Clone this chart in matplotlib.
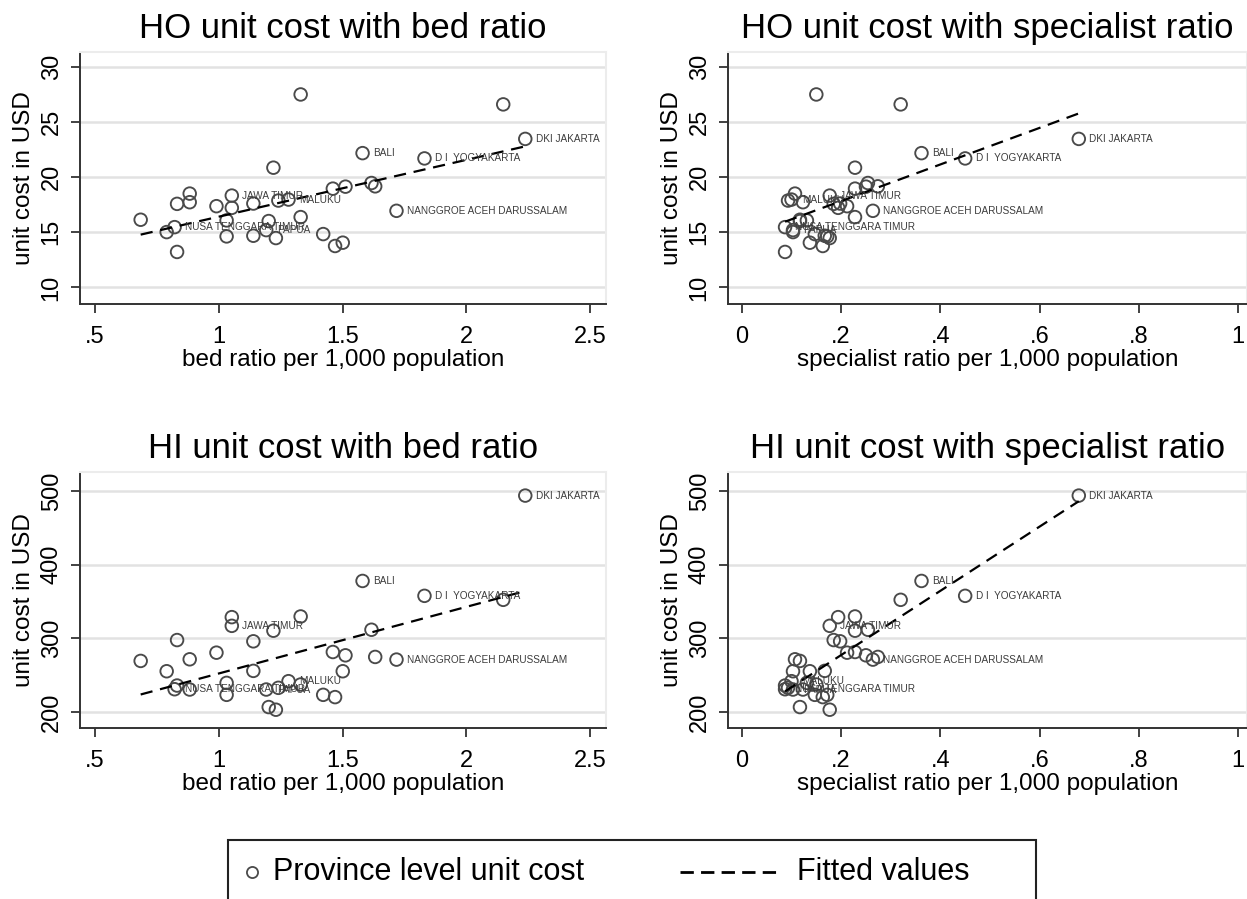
import numpy as np
import matplotlib.pyplot as plt
from matplotlib.lines import Line2D
from matplotlib.patches import Rectangle

plt.rcParams["font.family"] = ["Liberation Sans", "DejaVu Sans"]

# one row per province, same order in every list
province = [
    "", "", "NUSA TENGGARA TIMUR", "", "", "", "", "", "", "",
    "JAWA TIMUR", "", "", "", "PAPUA", "", "", "", "", "MALUKU",
    "", "", "", "", "", "", "", "BALI", "", "",
    "NANGGROE ACEH DARUSSALAM", "D I  YOGYAKARTA", "", "DKI JAKARTA",
]
bed_ratio = [
    0.685, 0.790, 0.822, 0.832, 0.832, 0.883, 0.883, 0.991, 1.032, 1.032,
    1.053, 1.053, 1.140, 1.140, 1.192, 1.202, 1.221, 1.231, 1.241, 1.282,
    1.331, 1.331, 1.422, 1.461, 1.470, 1.501, 1.512, 1.581, 1.617, 1.632,
    1.718, 1.831, 2.149, 2.238,
]
specialist_ratio = [
    0.117, 0.103, 0.087, 0.087, 0.185, 0.107, 0.123, 0.212, 0.131, 0.172,
    0.177, 0.194, 0.198, 0.167, 0.103, 0.117, 0.228, 0.177, 0.093, 0.100,
    0.150, 0.228, 0.147, 0.228, 0.163, 0.137, 0.250, 0.362, 0.254, 0.274,
    0.264, 0.450, 0.320, 0.679,
]
ho_cost = [
    16.14, 15.02, 15.47, 13.22, 17.58, 18.51, 17.73, 17.37, 16.08, 14.63,
    18.33, 17.22, 17.61, 14.69, 15.20, 16.02, 20.86, 14.48, 17.88, 17.97,
    27.50, 16.38, 14.84, 18.96, 13.76, 14.06, 19.14, 22.18, 19.47, 19.17,
    16.95, 21.70, 26.60, 23.47,
]
hi_cost = [
    269.4, 255.4, 231.0, 236.0, 297.7, 271.6, 230.6, 280.6, 239.6, 223.4,
    317.0, 328.8, 296.0, 255.9, 230.6, 206.8, 310.4, 203.2, 232.9, 241.9,
    237.4, 329.7, 223.4, 281.5, 220.3, 255.4, 277.0, 377.9, 311.7, 274.8,
    271.2, 357.7, 352.3, 493.7,
]

bed_ticks = [0.5, 1, 1.5, 2, 2.5]
bed_labels = [".5", "1", "1.5", "2", "2.5"]
spec_ticks = [0, 0.2, 0.4, 0.6, 0.8, 1]
spec_labels = ["0", ".2", ".4", ".6", ".8", "1"]
ho_ticks = [10, 15, 20, 25, 30]
hi_ticks = [200, 300, 400, 500]

W, H = 1247, 899
fig = plt.figure(figsize=(W / 100, H / 100), dpi=100)


def add_axes(left, top, right, bottom):
    return fig.add_axes([left / W, 1 - bottom / H, (right - left) / W, (bottom - top) / H])


def panel(ax, x, y, title, xlabel, xticks, xlabels, yticks, xlim, ylim):
    x = np.asarray(x)
    y = np.asarray(y)
    ax.scatter(x, y, s=82, facecolors="none", edgecolors="#4a4a4a", linewidths=1.35, zorder=3)

    slope, intercept = np.polyfit(x, y, 1)
    xs = np.array([x.min(), x.max()])
    ax.plot(xs, intercept + slope * xs, color="black", lw=1.6, dashes=(5.5, 3.5), zorder=4)

    for xi, yi, name in zip(x, y, province):
        if name:
            ax.annotate(name, (xi, yi), xytext=(7.5, 0), textcoords="offset points",
                        va="center", ha="left", fontsize=7.2, color="#3c3c3c", zorder=5)

    ax.set_xlim(*xlim)
    ax.set_ylim(*ylim)
    ax.set_xticks(xticks)
    ax.set_xticklabels(xlabels)
    ax.set_yticks(yticks)
    ax.set_yticklabels([str(t) for t in yticks], rotation=90, va="center")
    ax.yaxis.grid(True, color="#e2e2e2", lw=1.8)
    ax.set_axisbelow(True)
    for side in ["top", "right"]:
        ax.spines[side].set_color("#ececec")
        ax.spines[side].set_linewidth(1.5)
    for side in ["left", "bottom"]:
        ax.spines[side].set_color("#333333")
        ax.spines[side].set_linewidth(1.4)
    ax.tick_params(length=6.5, width=1.3, color="#333333", labelsize=17, pad=6)
    ax.tick_params(axis="x", pad=9)
    ax.set_title(title, fontsize=25, pad=10)
    ax.set_xlabel(xlabel, fontsize=17.5, labelpad=1)
    ax.set_ylabel("unit cost in USD", fontsize=17.5, labelpad=4)


ax1 = add_axes(80, 52, 606, 304)
panel(ax1, bed_ratio, ho_cost, "HO unit cost with bed ratio", "bed ratio per 1,000 population",
      bed_ticks, bed_labels, ho_ticks, (0.44, 2.564), (8.5, 31.35))

ax2 = add_axes(728, 52, 1247, 304)
panel(ax2, specialist_ratio, ho_cost, "HO unit cost with specialist ratio",
      "specialist ratio per 1,000 population", spec_ticks, spec_labels, ho_ticks,
      (-0.028, 1.018), (8.5, 31.35))

ax3 = add_axes(80, 472, 606, 728)
panel(ax3, bed_ratio, hi_cost, "HI unit cost with bed ratio", "bed ratio per 1,000 population",
      bed_ticks, bed_labels, hi_ticks, (0.44, 2.564), (178.4, 525.7))

ax4 = add_axes(728, 472, 1247, 728)
panel(ax4, specialist_ratio, hi_cost, "HI unit cost with specialist ratio",
      "specialist ratio per 1,000 population", spec_ticks, spec_labels, hi_ticks,
      (-0.028, 1.018), (178.4, 525.7))

# legend drawn by hand, box runs off the bottom edge like the original
fig.patches.append(Rectangle((228 / W, 1 - 910 / H), (1036 - 228) / W, (910 - 840) / H,
                             transform=fig.transFigure, fill=False, edgecolor="#222222", lw=1.5))
ly = 1 - 872 / H
fig.lines.append(Line2D([252 / W], [ly], transform=fig.transFigure, marker="o", ls="none",
                        mfc="none", mec="#4a4a4a", ms=8, mew=1.3))
fig.text(273 / W, ly, "Province level unit cost", fontsize=22, va="center", ha="left")
fig.lines.append(Line2D([680 / W, 780 / W], [ly, ly], transform=fig.transFigure,
                        color="black", lw=2, dashes=(4.8, 2.6)))
fig.text(797 / W, ly, "Fitted values", fontsize=22, va="center", ha="left")

fig.savefig("out.png", dpi=100)
